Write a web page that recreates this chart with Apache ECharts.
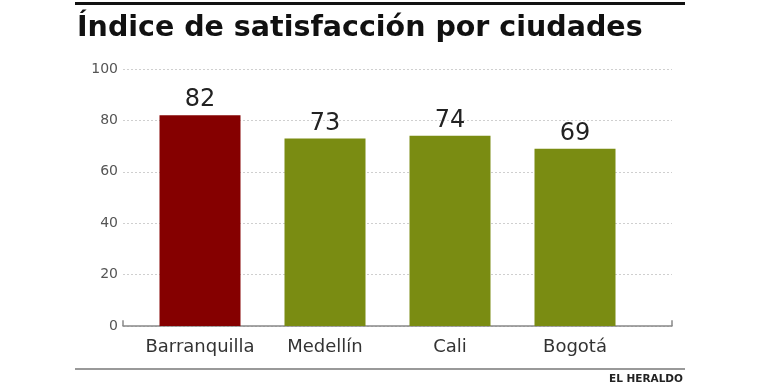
<!DOCTYPE html>
<html><head><meta charset="utf-8">
<script src="https://cdn.jsdelivr.net/npm/echarts@6/dist/echarts.min.js"></script>
<style>html,body{margin:0;padding:0;background:#fff}#c{width:760px;height:386px}</style>
</head><body><div id="c"></div>
<script>
const titleText = "Índice de satisfacción por ciudades";
const categories = ["Barranquilla", "Medellín", "Cali", "Bogotá"];
const values = [82, 73, 74, 69];
const barColors = ["#850000", "#7a8c12", "#7a8c12", "#7a8c12"];
const yTicks = [0, 20, 40, 60, 80, 100];
const source = "EL HERALDO";

const chart = echarts.init(document.getElementById('c'));
chart.setOption({
  animation: false,
  backgroundColor: '#fff',
  title: {
    text: titleText, left: 72, top: 9,
    textStyle: {fontFamily: 'DejaVu Sans', fontWeight: 'bold', fontSize: 28.5, color: '#111'}
  },
  graphic: [
    {type: 'rect', shape: {x: 75, y: 2, width: 610, height: 3}, style: {fill: '#111'}},
    {type: 'rect', shape: {x: 75, y: 368, width: 610, height: 2}, style: {fill: '#999'}},
    {type: 'text', right: 77, top: 374, style: {text: source, font: 'bold 10.5px "DejaVu Sans"', fill: '#222'}}
  ],
  grid: [
    {left: 123, right: 88, top: 69, bottom: 60},
    {left: 137.5, width: 500, top: 69, bottom: 60}
  ],
  xAxis: [
    {gridIndex: 0, type: 'value', min: 0, max: 1, axisLabel: {show: false}, splitLine: {show: false},
     axisTick: {show: false},
     axisLine: {show: true, lineStyle: {color: '#888', width: 1.5}}},
    {gridIndex: 1, type: 'category', data: categories,
     axisLine: {show: false}, axisTick: {show: false},
     axisLabel: {interval: 0, margin: 12, fontFamily: 'DejaVu Sans', fontSize: 18, color: '#333'}}
  ],
  yAxis: [
    {gridIndex: 0, type: 'value', min: 0, max: 100, interval: 20,
     axisLine: {show: false}, axisTick: {show: false},
     axisLabel: {margin: 5, fontFamily: 'DejaVu Sans', fontSize: 14, color: '#555',
       formatter: v => yTicks.includes(v) ? String(v) : ''},
     splitLine: {show: true, lineStyle: {color: '#cfcfcf', type: [2, 2], width: 1}}},
    {gridIndex: 1, type: 'value', min: 0, max: 100, interval: 20, show: false}
  ],
  series: [
    {type: 'bar', xAxisIndex: 1, yAxisIndex: 1, barWidth: 81,
     data: values.map((v, i) => ({value: v, itemStyle: {color: barColors[i]}})),
     label: {show: true, position: 'top', distance: 3, fontFamily: 'DejaVu Sans', fontSize: 24, color: '#222'}},
    {type: 'line', xAxisIndex: 0, yAxisIndex: 0, data: [[0, 0], [0, 2.2]], symbol: 'none',
     lineStyle: {color: '#888', width: 1.5}, silent: true},
    {type: 'line', xAxisIndex: 0, yAxisIndex: 0, data: [[1, 0], [1, 2.2]], symbol: 'none',
     lineStyle: {color: '#888', width: 1.5}, silent: true}
  ]
});
</script></body></html>
